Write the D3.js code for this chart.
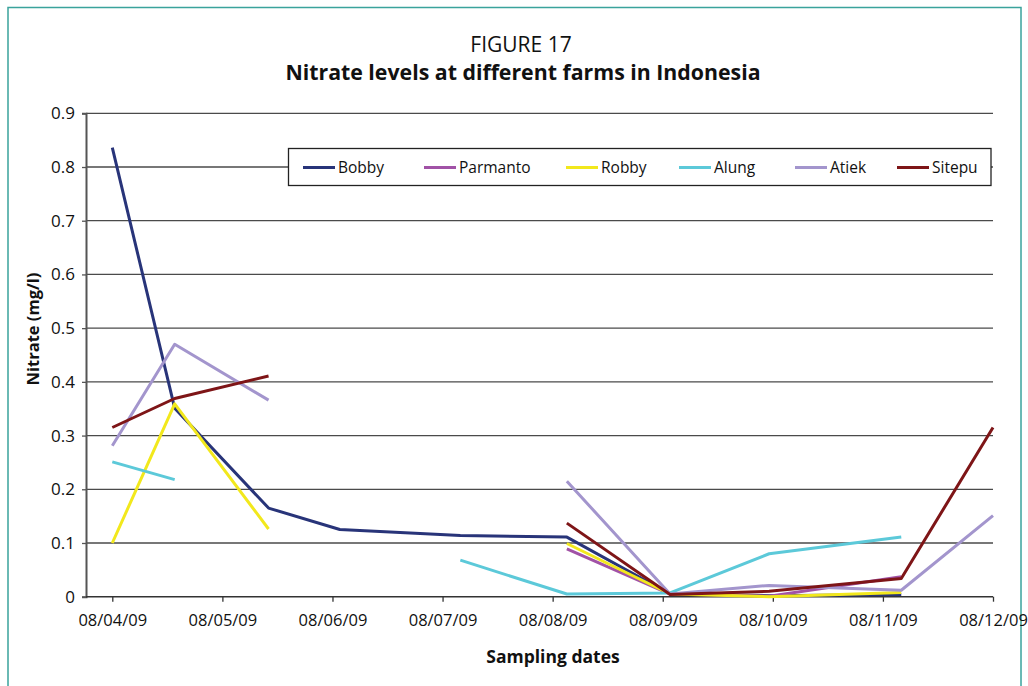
<!DOCTYPE html>
<html>
<head>
<meta charset="utf-8">
<script src="https://cdn.jsdelivr.net/npm/d3@7"></script>
<style>
  html, body { margin: 0; padding: 0; background: #fff; }
  svg { display: block; font-family: "Open Sans", "Noto Sans", sans-serif; }
</style>
</head>
<body>
<svg id="chart" width="1028" height="686"></svg>
<script>
// Sampling dates (ISO) and nitrate readings (mg/l) per farm; null = no sample
const sampleDates = ["2009-04-08", "2009-04-25", "2009-05-21", "2009-06-10", "2009-07-13",
                     "2009-08-12", "2009-09-10", "2009-10-07", "2009-11-13", "2009-12-08"];
const bobby    = [0.836, 0.351, 0.165, 0.125, 0.114, 0.111, 0.005, 0.002, 0.004, null];
const parmanto = [null,  null,  null,  null,  null,  0.089, 0.005, 0.001, 0.037, null];
const robby    = [0.100, 0.359, 0.126, null,  null,  0.099, 0.005, 0.000, 0.008, null];
const alung    = [0.251, 0.218, null,  null,  0.068, 0.005, 0.007, 0.080, 0.111, null];
const atiek    = [0.281, 0.470, 0.366, null,  null,  0.215, 0.005, 0.021, 0.012, 0.151];
const sitepu   = [0.315, 0.369, 0.411, null,  null,  0.137, 0.004, 0.010, 0.034, 0.315];

const seriesNames  = ["Bobby", "Parmanto", "Robby", "Alung", "Atiek", "Sitepu"];
const seriesValues = [bobby, parmanto, robby, alung, atiek, sitepu];
const seriesColors = ["#283479", "#a152a6", "#f2e81c", "#5cc9d9", "#a395cd", "#7e1517"];

// Monthly axis ticks (dd/mm/yy labels)
const tickDates  = ["2009-04-08", "2009-05-08", "2009-06-08", "2009-07-08", "2009-08-08",
                    "2009-09-08", "2009-10-08", "2009-11-08", "2009-12-08"];
const tickLabels = ["08/04/09", "08/05/09", "08/06/09", "08/07/09", "08/08/09",
                    "08/09/09", "08/10/09", "08/11/09", "08/12/09"];
const yTicks = [0, 0.1, 0.2, 0.3, 0.4, 0.5, 0.6, 0.7, 0.8, 0.9];

const parse = d3.utcParse("%Y-%m-%d");
const svg = d3.select("#chart");

// frame
svg.append("rect").attr("x", 8).attr("y", 7.5).attr("width", 1013).attr("height", 700)
  .attr("fill", "none").attr("stroke", "#3aa39c").attr("stroke-width", 1.5);

const plot = { left: 86, right: 993, top: 113.3, bottom: 596.7 };
const firstTick = 112.3, step = (plot.right - firstTick) / (tickDates.length - 1);

// months are spaced evenly, days are spread within each month
const x = d3.scaleUtc()
  .domain(tickDates.map(parse))
  .range(tickDates.map((d, i) => firstTick + i * step));
const y = d3.scaleLinear().domain([0, 0.9]).range([plot.bottom, plot.top]);

// gridlines
svg.append("g").selectAll("line").data(yTicks.filter(v => v > 0)).join("line")
  .attr("x1", plot.left).attr("x2", plot.right)
  .attr("y1", d => y(d)).attr("y2", d => y(d))
  .attr("stroke", "#4a4a4a").attr("stroke-width", 1.3);

// y axis
const yAxis = svg.append("g").attr("transform", `translate(${plot.left},0)`)
  .call(d3.axisLeft(y).tickValues(yTicks).tickFormat(d => d === 0 ? "0" : d3.format(".1f")(d))
    .tickSize(4).tickPadding(7));
yAxis.select(".domain").attr("stroke", "#555").attr("stroke-width", 2);
yAxis.selectAll(".tick line").attr("stroke", "#555").attr("stroke-width", 1.3);
yAxis.selectAll(".tick text").attr("font-size", 17).attr("fill", "#111")
  .attr("font-family", "'Open Sans', sans-serif");

// x axis
const xAxis = svg.append("g").attr("transform", `translate(0,${plot.bottom})`)
  .call(d3.axisBottom(x).tickValues(tickDates.map(parse))
    .tickFormat((d, i) => tickLabels[i]).tickSize(5).tickSizeOuter(0).tickPadding(13));
xAxis.select(".domain").attr("stroke", "#333").attr("stroke-width", 1.6)
  .attr("d", `M${plot.left},0H${plot.right}`);
xAxis.selectAll(".tick line").attr("stroke", "#333").attr("stroke-width", 1.3);
xAxis.selectAll(".tick text").attr("font-size", 16.5).attr("fill", "#111")
  .attr("font-family", "'Open Sans', sans-serif");

// series lines
const line = d3.line()
  .defined(d => d.v !== null)
  .x(d => x(d.t)).y(d => y(d.v));
svg.append("g").selectAll("path")
  .data(seriesValues.map((vals, i) => ({
    color: seriesColors[i],
    pts: vals.map((v, j) => ({ t: parse(sampleDates[j]), v }))
  })))
  .join("path")
  .attr("d", d => line(d.pts))
  .attr("fill", "none").attr("stroke", d => d.color).attr("stroke-width", 3)
  .attr("stroke-linejoin", "round");

// legend
const legend = svg.append("g");
legend.append("rect").attr("x", 288.5).attr("y", 148.5).attr("width", 702.5).attr("height", 37)
  .attr("fill", "#fff").attr("stroke", "#222").attr("stroke-width", 1.3);
const legendX = [303, 424, 566, 679, 795, 897];
seriesNames.forEach((name, i) => {
  const g = legend.append("g").attr("transform", `translate(${legendX[i]},167.5)`);
  g.append("line").attr("x1", 0).attr("x2", 32).attr("y1", 0).attr("y2", 0)
    .attr("stroke", seriesColors[i]).attr("stroke-width", 3);
  g.append("text").attr("x", 35).attr("y", 5.5).attr("font-size", 15.5).attr("fill", "#111")
    .text(name);
});

// titles
svg.append("text").attr("x", 521).attr("y", 52).attr("text-anchor", "middle")
  .attr("font-size", 21).attr("fill", "#111").text("FIGURE 17");
svg.append("text").attr("x", 523).attr("y", 80).attr("text-anchor", "middle")
  .attr("font-size", 21.3).attr("font-weight", "bold").attr("fill", "#111")
  .text("Nitrate levels at different farms in Indonesia");
svg.append("text").attr("transform", "translate(39,329) rotate(-90)").attr("text-anchor", "middle")
  .attr("font-size", 16.5).attr("font-weight", "bold").attr("fill", "#111").text("Nitrate (mg/l)");
svg.append("text").attr("x", 553).attr("y", 663).attr("text-anchor", "middle")
  .attr("font-size", 17.5).attr("font-weight", "bold").attr("fill", "#111").text("Sampling dates");
</script>
</body>
</html>
